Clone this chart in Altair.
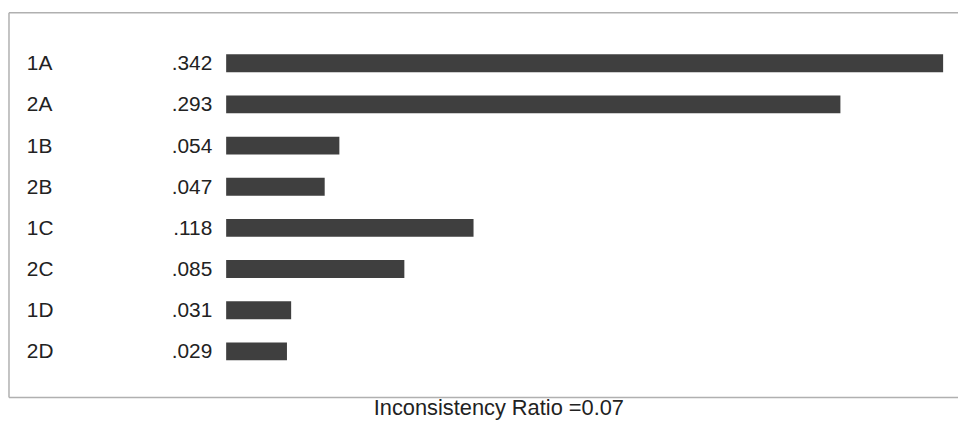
import altair as alt
import pandas as pd

categories = ["1A", "2A", "1B", "2B", "1C", "2C", "1D", "2D"]
weights = [0.342, 0.293, 0.054, 0.047, 0.118, 0.085, 0.031, 0.029]
footer = "Inconsistency Ratio =0.07"

df = pd.DataFrame({"cat": categories, "w": weights, "idx": list(range(len(categories)))})

W, H = 958, 405
FONT = "Liberation Sans"
FS = 21

xs = alt.Scale(domain=[0, 0.342], range=[220, 943], padding=0, nice=False, zero=True)
ys = alt.Scale(domain=[0, 7], range=[54, 344.5], padding=0, nice=False, zero=False)

base = alt.Chart(df)

bars = base.mark_bar(color="#3f3f3f", size=18).encode(
    x=alt.X("w:Q", scale=xs, axis=None),
    x2=alt.value(220),
    y=alt.Y("idx:Q", scale=ys, axis=None),
)

cat_text = base.mark_text(align="left", baseline="middle", font=FONT, fontSize=FS, color="#222222", dy=1).encode(
    x=alt.value(19),
    y=alt.Y("idx:Q", scale=ys, axis=None),
    text="cat:N",
)

val_text = base.transform_calculate(
    lab="substring(format(datum.w, '.3f'), 1)"
).mark_text(align="right", baseline="middle", font=FONT, fontSize=FS, color="#222222", dy=1).encode(
    x=alt.value(206),
    y=alt.Y("idx:Q", scale=ys, axis=None),
    text="lab:N",
)

border_src = alt.Chart(pd.DataFrame({"a": [0]}))
top_rule = border_src.mark_rule(color="#b0b0b0", strokeWidth=1.5).encode(
    x=alt.value(1), x2=alt.value(W), y=alt.value(3)
)
bottom_rule = border_src.mark_rule(color="#b0b0b0", strokeWidth=1.5).encode(
    x=alt.value(1), x2=alt.value(W), y=alt.value(391)
)
left_rule = border_src.mark_rule(color="#b0b0b0", strokeWidth=1.5).encode(
    x=alt.value(1), y=alt.value(3), y2=alt.value(391)
)

footer_text = alt.Chart(pd.DataFrame({"t": [footer]})).mark_text(
    align="center", baseline="alphabetic", font=FONT, fontSize=22, color="#222222"
).encode(x=alt.value(495), y=alt.value(409), text="t:N")

chart = alt.layer(top_rule, bottom_rule, left_rule, bars, cat_text, val_text, footer_text).properties(
    width=W, height=H,
    autosize=alt.AutoSizeParams(type="none"),
    padding={"left": 0, "top": 0, "right": 0, "bottom": 10},
).configure_view(stroke=None)

chart.save("out.html", embed_options={"renderer": "svg", "actions": False})
